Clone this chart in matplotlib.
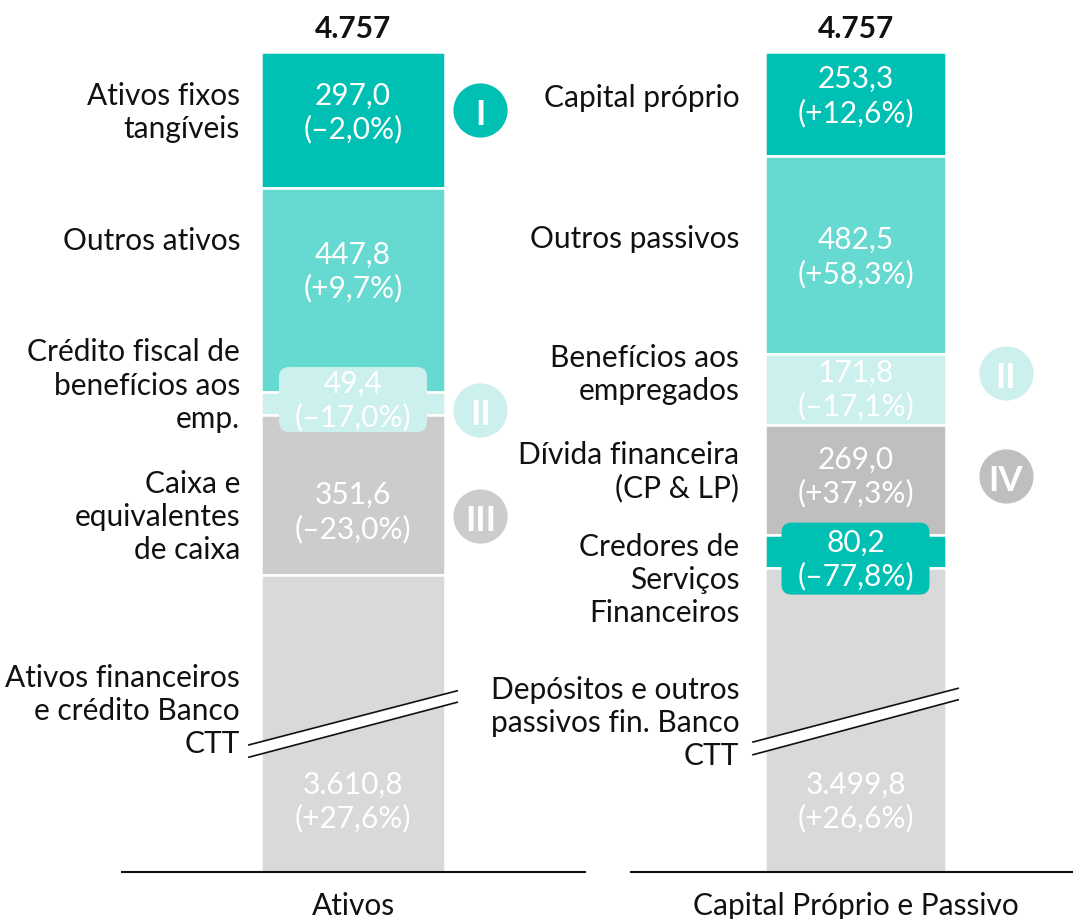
import matplotlib
matplotlib.use('Agg')
import matplotlib.pyplot as plt
from matplotlib import transforms
from matplotlib.patches import FancyBboxPatch, Polygon
import numpy as np

plt.rcParams['font.family'] = ['Lato', 'DejaVu Sans']

# ---------------- data ----------------
bar_titles = ['Ativos', 'Capital Próprio e Passivo']
bar_totals = [4757, 4757]

assets_labels = ['Ativos fixos\ntangíveis', 'Outros ativos',
                 'Crédito fiscal de\nbenefícios aos\nemp.',
                 'Caixa e\nequivalentes\nde caixa',
                 'Ativos financeiros\ne crédito Banco\nCTT']
assets_values = [297.0, 447.8, 49.4, 351.6, 3610.8]
assets_change = ['–2,0%', '+9,7%', '–17,0%', '–23,0%', '+27,6%']
assets_numerals = {0: 'I', 2: 'II', 3: 'III'}

liab_labels = ['Capital próprio', 'Outros passivos',
               'Benefícios aos\nempregados', 'Dívida financeira\n(CP & LP)',
               'Credores de\nServiços\nFinanceiros',
               'Depósitos e outros\npassivos fin. Banco\nCTT']
liab_values = [253.3, 482.5, 171.8, 269.0, 80.2, 3499.8]
liab_change = ['+12,6%', '+58,3%', '–17,1%', '+37,3%', '–77,8%', '+26,6%']
liab_numerals = {2: 'II', 3: 'IV'}

# ---------------- style ----------------
TEAL = '#00BFB3'
MID = '#66D9D1'
LIGHT = '#CCF0ED'
GRAY1 = '#CCCCCC'
GRAY2 = '#BFBFBF'
GRAYB = '#D9D9D9'
FS = 21.5
LS = 1.22

W, H = 1073, 920
fig = plt.figure(figsize=(W / 100, H / 100), dpi=100)


def fmt(v):
    s = f"{v:,.1f}"
    return s.replace(',', 'X').replace('.', ',').replace('X', '.')


def px_axes(x0, x1, ytop, ybot):
    return fig.add_axes([x0 / W, 1 - ybot / H, (x1 - x0) / W, (ybot - ytop) / H])


def draw_panel(ax, values, labels, changes, colors, numerals, callout, cfg):
    cx, w = cfg['cx'], cfg['w']
    values = np.asarray(values)
    bottoms = np.concatenate([[0], np.cumsum(values)[:-1]])
    mids = bottoms + values / 2
    ax.bar([cx] * len(values), values, width=w, bottom=bottoms, color=colors,
           edgecolor='white', linewidth=1.8, zorder=2)
    ax.set_xlim(0, 1)
    ax.set_ylim(cfg['ylim'], 0)
    ax.set_xticks([])
    ax.set_yticks([])
    for s in ['top', 'left', 'right']:
        ax.spines[s].set_visible(False)
    ax.spines['bottom'].set_linewidth(1.5)
    ax.spines['bottom'].set_color('#111111')
    ax.patch.set_visible(False)

    blend_xa = transforms.blended_transform_factory(ax.transAxes, ax.transData)
    blend_dx = transforms.blended_transform_factory(ax.transData, ax.transAxes)
    blend_ax = ax.transAxes

    n = len(values)
    for i in range(n):
        txt = f"{fmt(values[i])}\n({changes[i]})"
        last = (i == n - 1)
        # value label
        if last:
            ax.text(cx, cfg['last_val_y'], txt, transform=blend_dx, ha='center', va='center',
                    color='white', fontsize=FS, linespacing=LS, zorder=6)
        else:
            tr = transforms.offset_copy(ax.transData, fig=fig, x=0, y=cfg['val_off'][i], units='dots')
            if i == callout:
                box = FancyBboxPatch((-0.74, -cfg['box_h'] / 2), 1.48, cfg['box_h'],
                                     boxstyle='round,pad=0,rounding_size=0.1',
                                     transform=fig.dpi_scale_trans +
                                     transforms.ScaledTranslation(cx, mids[i], tr),
                                     fc=colors[i], ec='none', zorder=4, clip_on=False)
                ax.add_patch(box)
            ax.text(cx, mids[i], txt, transform=tr, ha='center', va='center',
                    color='white', fontsize=FS, linespacing=LS, zorder=6)
        # category label
        if last:
            ax.text(cfg['lab_x'], cfg['last_lab_y'], labels[i], transform=blend_ax,
                    ha='right', va='center', color='#111111', fontsize=FS,
                    linespacing=LS, zorder=6)
        else:
            tr = transforms.offset_copy(blend_xa, fig=fig, x=0, y=cfg['lab_off'][i], units='dots')
            ax.text(cfg['lab_x'], mids[i], labels[i], transform=tr, ha='right', va='center',
                    color='#111111', fontsize=FS, linespacing=LS, zorder=6)
        # numerals
        if i in numerals:
            tr = transforms.offset_copy(blend_xa, fig=fig, x=0, y=cfg['num_off'][i], units='dots')
            ax.plot([cfg['num_x']], [mids[i]], 'o', ms=39, color=colors[i], mec='none',
                    transform=tr, clip_on=False, zorder=5)
            tr2 = transforms.offset_copy(blend_xa, fig=fig, x=0, y=cfg['num_off'][i] - 1, units='dots')
            ax.text(cfg['num_x'], mids[i], numerals[i], transform=tr2, ha='center',
                    va='center_baseline', color='white', fontsize=25, fontweight='bold', zorder=6)

    # total on top
    tr = transforms.offset_copy(ax.transData, fig=fig, x=0, y=24, units='dots')
    ax.text(cx, 0, f"{cfg['total']:,}".replace(',', '.'), transform=tr, ha='center', va='center',
            fontsize=FS, fontweight='bold', color='#111111')
    # title
    ax.text(cx, -0.04, cfg['title'], transform=blend_dx, ha='center', va='center',
            fontsize=FS, color='#111111')

    # break marks
    (ux0, uy0), (ux1, uy1) = cfg['brk_up']
    (lx0, ly0), (lx1, ly1) = cfg['brk_lo']
    poly = Polygon([(ux0, uy0), (ux1, uy1), (lx1, ly1), (lx0, ly0)], closed=True,
                   transform=blend_ax, fc='white', ec='none', zorder=5, clip_on=False)
    ax.add_patch(poly)
    ax.plot([ux0, ux1], [uy0, uy1], color='#111111', lw=1.2, transform=blend_ax,
            clip_on=False, zorder=6)
    ax.plot([lx0, lx1], [ly0, ly1], color='#111111', lw=1.2, transform=blend_ax,
            clip_on=False, zorder=6)


ax1 = px_axes(122, 585, 53, 873)
ax2 = px_axes(631, 1073, 53, 873)

cfg1 = dict(cx=0.499, w=0.397, ylim=1795, total=bar_totals[0], title=bar_titles[0],
            val_off=[8, 19, 4, -16], lab_off=[8, 50, 19, -21], num_off={0: 10, 2: -6, 3: -21},
            lab_x=0.255, num_x=0.774, last_val_y=0.087, last_lab_y=0.198, box_h=0.65,
            brk_up=((0.274, 0.155), (0.724, 0.221)), brk_lo=((0.274, 0.140), (0.724, 0.207)))
cfg2 = dict(cx=0.508, w=0.41, ylim=1997, total=bar_totals[1], title=bar_titles[1],
            val_off=[9, -1, 1, 4, -7], lab_off=[7, 17, 16, 9, -27], num_off={2: 16, 3: 4},
            lab_x=0.245, num_x=0.848, last_val_y=0.087, last_lab_y=0.183, box_h=0.72,
            brk_up=((0.276, 0.1585), (0.740, 0.224)), brk_lo=((0.276, 0.143), (0.740, 0.210)))

draw_panel(ax1, assets_values, assets_labels, assets_change,
           [TEAL, MID, LIGHT, GRAY1, GRAYB], assets_numerals, 2, cfg1)
draw_panel(ax2, liab_values, liab_labels, liab_change,
           [TEAL, MID, LIGHT, GRAY2, TEAL, GRAYB], liab_numerals, 4, cfg2)

fig.savefig('out.png', dpi=100)
